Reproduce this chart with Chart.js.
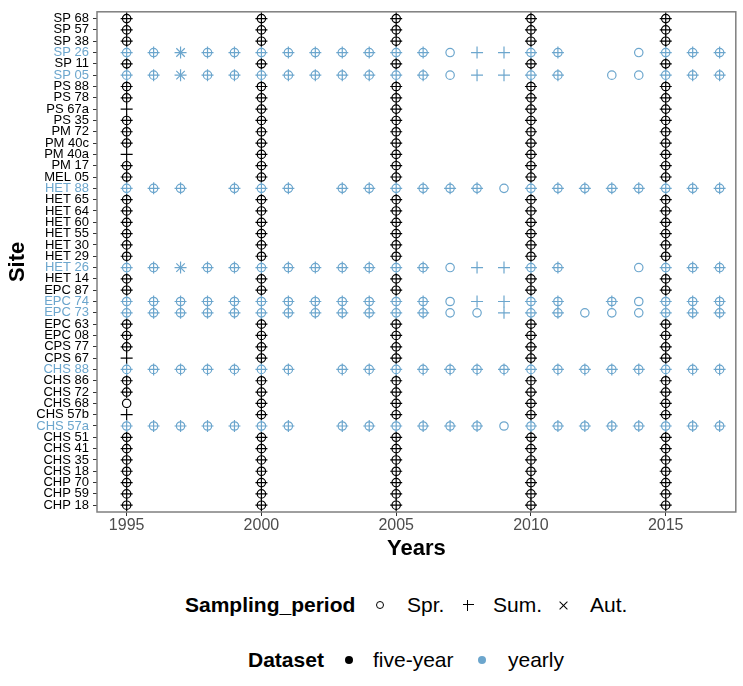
<!DOCTYPE html>
<html>
<head>
<meta charset="utf-8">
<script src="https://cdn.jsdelivr.net/npm/chart.js@4.4.1/dist/chart.umd.min.js"></script>
<style>
  body { margin: 0; background: #fff; font-family: "Liberation Sans", Arial, sans-serif; }
  #wrap { position: relative; width: 743px; height: 686px; }
  #myChart { position: absolute; left: 0; top: 0; }
  .lg { position: absolute; font-size: 21px; line-height: 24px; color: #000; white-space: nowrap; }
  .lg.t { font-weight: bold; }
  .sym { position: absolute; }
  .circ { width: 6px; height: 6px; border: 1.2px solid #000; border-radius: 50%; }
  .plus { width: 11px; height: 11px;
    background: linear-gradient(#000, #000) center / 100% 1.3px no-repeat,
                linear-gradient(#000, #000) center / 1.3px 100% no-repeat; }
  .cross { transform: rotate(45deg); }
  .dot { width: 8px; height: 8px; border-radius: 50%; }
</style>
</head>
<body>
<div id="wrap">
  <canvas id="myChart" width="743" height="565"></canvas>

  <span class="lg t" style="left:185px; top:593px;">Sampling_period</span>
  <span class="sym circ" style="left:375.8px; top:600.8px;"></span>
  <span class="lg" style="left:407px; top:593px;">Spr.</span>
  <span class="sym plus" style="left:462.5px; top:599.5px;"></span>
  <span class="lg" style="left:493px; top:593px;">Sum.</span>
  <span class="sym plus cross" style="left:557.5px; top:599.5px;"></span>
  <span class="lg" style="left:590px; top:593px;">Aut.</span>

  <span class="lg t" style="left:248px; top:648px;">Dataset</span>
  <span class="sym dot" style="left:345px; top:656px; background:#000;"></span>
  <span class="lg" style="left:373px; top:648px;">five-year</span>
  <span class="sym dot" style="left:478px; top:656px; background:#6ca6cd;"></span>
  <span class="lg" style="left:508px; top:648px;">yearly</span>
</div>

<script>
// sites, top to bottom
const sites = ["SP 68", "SP 57", "SP 38", "SP 26", "SP 11", "SP 05",
  "PS 88", "PS 78", "PS 67a", "PS 35", "PM 72", "PM 40c", "PM 40a", "PM 17",
  "MEL 05", "HET 88", "HET 65", "HET 64", "HET 60", "HET 55", "HET 30",
  "HET 29", "HET 26", "HET 14", "EPC 87", "EPC 74", "EPC 73", "EPC 63",
  "EPC 08", "CPS 77", "CPS 67", "CHS 88", "CHS 86", "CHS 72", "CHS 68",
  "CHS 57b", "CHS 57a", "CHS 51", "CHS 41", "CHS 35", "CHS 18", "CHP 70",
  "CHP 59", "CHP 18"];

const yearlySites = ["SP 26", "SP 05", "HET 88", "HET 26", "EPC 74", "EPC 73", "CHS 88", "CHS 57a"];

const years = [1995, 1996, 1997, 1998, 1999, 2000, 2001, 2002, 2003, 2004, 2005,
  2006, 2007, 2008, 2009, 2010, 2011, 2012, 2013, 2014, 2015, 2016, 2017];
const fiveYears = [1995, 2000, 2005, 2010, 2015];

// codes: S = spring, U = summer, A = autumn
const sp26   = ["SU","SU","UA","SU","SU","SU","SU","SU","SU","SU","SU","SU","S","U","U","SU","SU","","","S","SU","SU","SU"];
const sp05   = ["SU","SU","UA","SU","SU","SU","SU","SU","SU","SU","SU","SU","S","U","U","SU","SU","","S","S","SU","SU","SU"];
const het88  = ["SU","SU","SU","","SU","SU","SU","","SU","SU","SU","SU","SU","SU","S","SU","SU","SU","SU","SU","SU","SU","SU"];
const het26  = ["SU","SU","UA","SU","SU","SU","SU","SU","SU","SU","SU","SU","S","U","U","SU","SU","","","S","SU","SU","SU"];
const epc74  = ["SU","SU","SU","SU","SU","SU","SU","SU","SU","SU","SU","SU","S","U","U","SU","SU","","SU","S","SU","SU","SU"];
const epc73  = ["SU","SU","SU","SU","SU","SU","SU","SU","SU","SU","SU","SU","S","S","U","SU","SU","S","S","S","SU","SU","SU"];
const chs88  = ["SU","SU","SU","SU","SU","SU","SU","","SU","SU","SU","SU","SU","SU","SU","SU","SU","SU","SU","SU","SU","SU","SU"];
const chs57a = ["SU","SU","SU","SU","SU","SU","SU","","SU","SU","SU","SU","SU","SU","S","SU","SU","SU","SU","SU","SU","SU","SU"];

const yearlyCodes = [sp26, sp05, het88, het26, epc74, epc73, chs88, chs57a];

// five-year sites: spring + summer everywhere except these
const fiveYearExceptions = [["PS 67a", 1995, "U"], ["PM 40a", 1995, "U"],
  ["CPS 67", 1995, "U"], ["CHS 68", 1995, "S"], ["CHS 57b", 1995, "U"]];

const blue = "#6ca6cd";
const font = "'Liberation Sans', Arial, sans-serif";

let yearly = { S: [], U: [], A: [] };
let fiveYear = { S: [], U: [], A: [] };

function addCode(target, site, year, code) {
  let y = sites.indexOf(site);
  for (let c of code) {
    target[c].push({ x: year, y: y });
  }
}

yearlySites.forEach((site, i) => {
  years.forEach((year, j) => addCode(yearly, site, year, yearlyCodes[i][j]));
});

sites.forEach((site) => {
  if (yearlySites.includes(site)) return;
  fiveYears.forEach((year) => {
    let code = "SU";
    fiveYearExceptions.forEach((e) => {
      if (e[0] == site && e[1] == year) code = e[2];
    });
    addCode(fiveYear, site, year, code);
  });
});

function makeSet(label, data, style, color) {
  return {
    label: label,
    data: data,
    pointStyle: style,
    pointRadius: style == "circle" ? 4.2 : 6,
    borderColor: color,
    backgroundColor: "rgba(0,0,0,0)",
    pointBorderWidth: 1.2,
    borderWidth: 1.2,
  };
}

const panelBox = {
  id: "panelBox",
  beforeDatasetsDraw(chart) {
    let a = chart.chartArea;
    let ctx = chart.ctx;
    ctx.save();
    ctx.strokeStyle = "#7f7f7f";
    ctx.lineWidth = 1.5;
    ctx.strokeRect(a.left, a.top, a.right - a.left, a.bottom - a.top);
    ctx.restore();
  },
};

new Chart("myChart", {
  type: "scatter",
  data: {
    datasets: [
      makeSet("yearly Spr.", yearly.S, "circle", blue),
      makeSet("yearly Sum.", yearly.U, "cross", blue),
      makeSet("yearly Aut.", yearly.A, "crossRot", blue),
      makeSet("five-year Spr.", fiveYear.S, "circle", "#000"),
      makeSet("five-year Sum.", fiveYear.U, "cross", "#000"),
      makeSet("five-year Aut.", fiveYear.A, "crossRot", "#000"),
    ],
  },
  plugins: [panelBox],
  options: {
    responsive: false,
    animation: false,
    events: [],
    layout: { padding: { top: 5, right: 3, bottom: 0, left: 0 } },
    plugins: { legend: { display: false }, tooltip: { enabled: false } },
    scales: {
      x: {
        type: "linear",
        min: 1993.9,
        max: 2017.6,
        afterBuildTicks: (axis) => { axis.ticks = fiveYears.map((v) => ({ value: v })); },
        afterFit: (axis) => { axis.height = 53; },
        border: { display: false },
        grid: { drawOnChartArea: false, drawTicks: true, tickLength: 4, color: "#333" },
        ticks: { color: "#4d4d4d", padding: 0, font: { family: font, size: 16 }, maxRotation: 0,
          callback: (value) => String(value) },
        title: { display: true, text: "Years", color: "#000", padding: { top: 0, bottom: 3 },
          font: { family: font, size: 22, weight: "bold" } },
      },
      y: {
        type: "linear",
        reverse: true,
        min: -0.6,
        max: 43.6,
        afterBuildTicks: (axis) => { axis.ticks = sites.map((s, i) => ({ value: i })); },
        afterFit: (axis) => { axis.width = 97; },
        border: { display: false },
        grid: { drawOnChartArea: false, drawTicks: true, tickLength: 4, color: "#333" },
        ticks: {
          autoSkip: false,
          padding: 4,
          font: { family: font, size: 13 },
          color: (c) => (yearlySites.includes(sites[c.tick.value]) ? blue : "#000"),
          callback: (value) => sites[value],
        },
        title: { display: true, text: "Site", color: "#000", padding: { top: 5, bottom: 0 },
          font: { family: font, size: 22, weight: "bold" } },
      },
    },
  },
});
</script>
</body>
</html>
